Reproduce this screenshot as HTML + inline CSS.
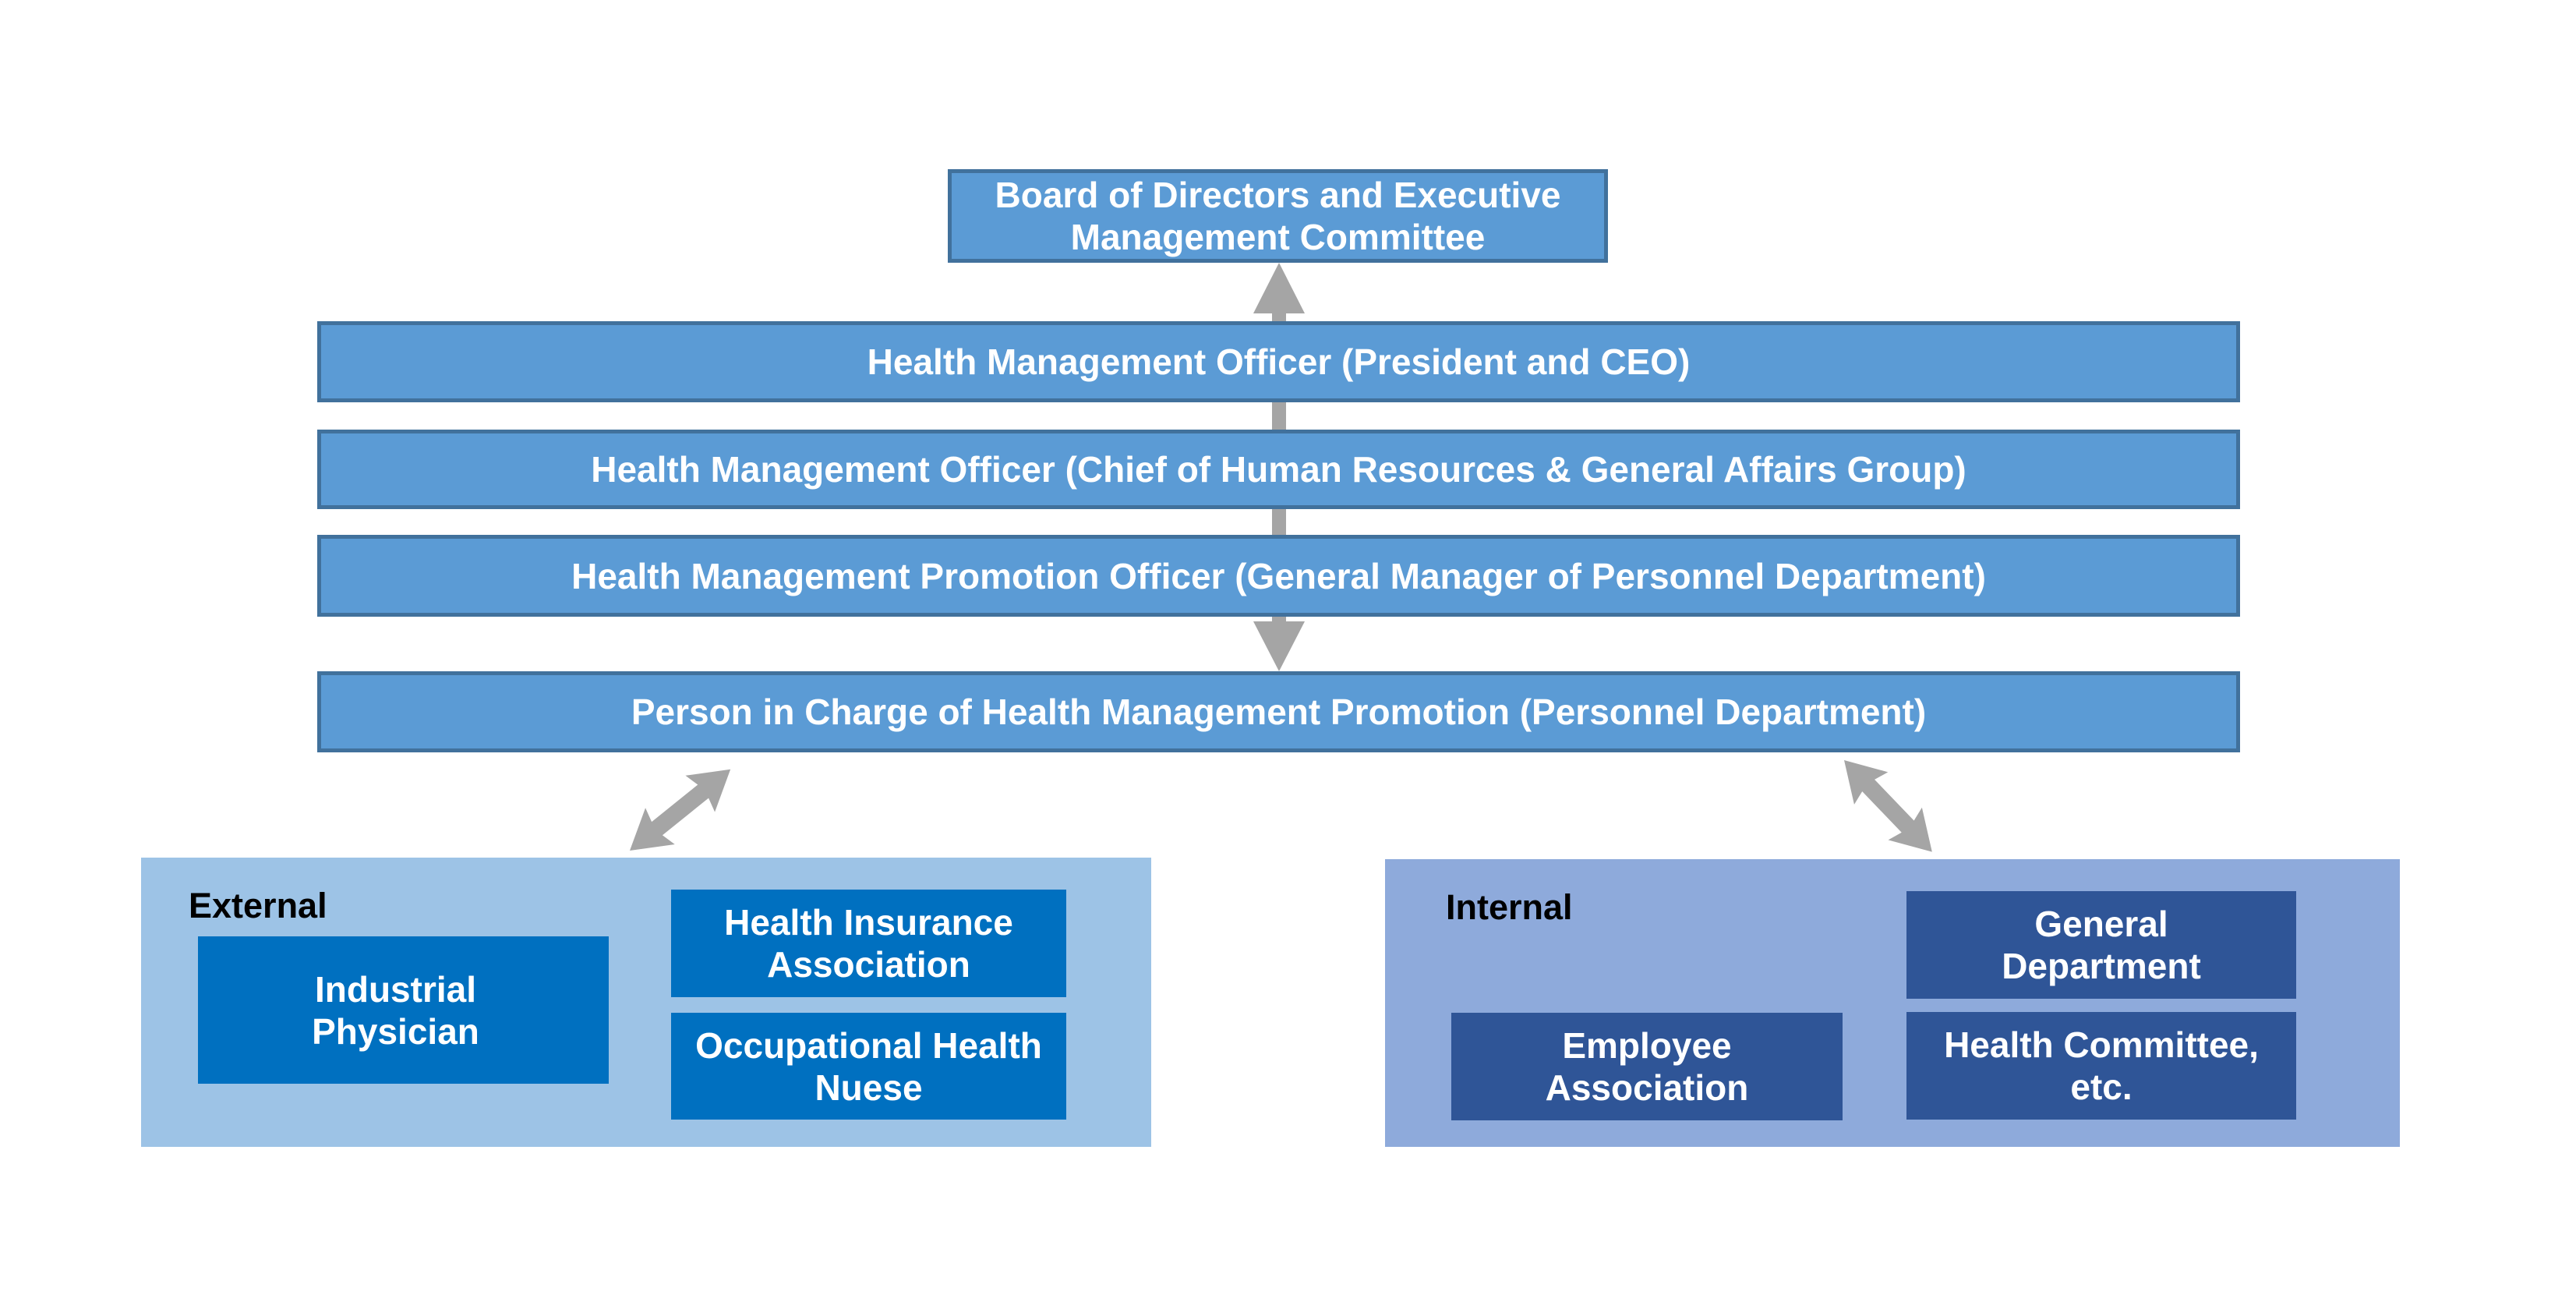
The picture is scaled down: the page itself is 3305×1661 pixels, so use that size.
<!DOCTYPE html>
<html><head><meta charset="utf-8"><style>
html,body{margin:0;padding:0;background:#fff;}
body{width:3305px;height:1661px;position:relative;overflow:hidden;font-family:"Liberation Sans",sans-serif;font-weight:bold;}
.b{position:absolute;box-sizing:border-box;display:flex;align-items:center;justify-content:center;text-align:center;color:#fff;}
.row{background:#5b9bd5;border:5px solid #41719c;font-size:46px;}
.g{position:absolute;box-sizing:border-box;}
.in{font-size:46px;line-height:54px;}
.lbl{position:absolute;font-size:45px;color:#000;}
</style></head><body>
<div class="b row" style="left:1216px;top:217px;width:847px;height:120px;line-height:54px;">Board of Directors and Executive<br>Management Committee</div>
<svg style="position:absolute;left:0;top:0" width="3305" height="1661">
<rect x="1632" y="398" width="18" height="400" fill="#a5a5a5"/>
<polygon points="1641,337 1608,402 1674,402" fill="#a5a5a5"/>
<polygon points="1641,861 1608,797 1674,797" fill="#a5a5a5"/>
<g transform="translate(808,1091) rotate(-38.9)" fill="#a5a5a5">
<polygon points="0,0 50,-30 45,-11 121,-11 116,-30 166,0 116,30 121,11 45,11 50,30"/>
</g>
<g transform="translate(2366,975) rotate(46.2)" fill="#a5a5a5">
<polygon points="0,0 50,-30 45,-11 118,-11 113,-30 163,0 113,30 118,11 45,11 50,30"/>
</g>
</svg>
<div class="b row" style="left:407px;top:412px;width:2467px;height:104px;">Health Management Officer (President and CEO)</div>
<div class="b row" style="left:407px;top:551px;width:2467px;height:102px;">Health Management Officer (Chief of Human Resources &amp; General Affairs Group)</div>
<div class="b row" style="left:407px;top:686px;width:2467px;height:105px;">Health Management Promotion Officer (General Manager of Personnel Department)</div>
<div class="b row" style="left:407px;top:861px;width:2467px;height:104px;">Person in Charge of Health Management Promotion (Personnel Department)</div>

<div class="g" style="left:181px;top:1100px;width:1296px;height:371px;background:#9dc3e6;"></div>
<div class="lbl" style="left:242px;top:1136px;">External</div>
<div class="b in" style="left:254px;top:1201px;width:527px;height:189px;background:#0070c0;padding-right:20px;">Industrial<br>Physician</div>
<div class="b in" style="left:861px;top:1141px;width:507px;height:138px;background:#0070c0;">Health Insurance<br>Association</div>
<div class="b in" style="left:861px;top:1299px;width:507px;height:137px;background:#0070c0;">Occupational Health<br>Nuese</div>

<div class="g" style="left:1777px;top:1102px;width:1302px;height:369px;background:#8eaadb;"></div>
<div class="lbl" style="left:1855px;top:1138px;">Internal</div>
<div class="b in" style="left:2446px;top:1143px;width:500px;height:138px;background:#2f5597;">General<br>Department</div>
<div class="b in" style="left:2446px;top:1298px;width:500px;height:138px;background:#2f5597;">Health Committee,<br>etc.</div>
<div class="b in" style="left:1862px;top:1299px;width:502px;height:138px;background:#2f5597;">Employee<br>Association</div>
</body></html>
